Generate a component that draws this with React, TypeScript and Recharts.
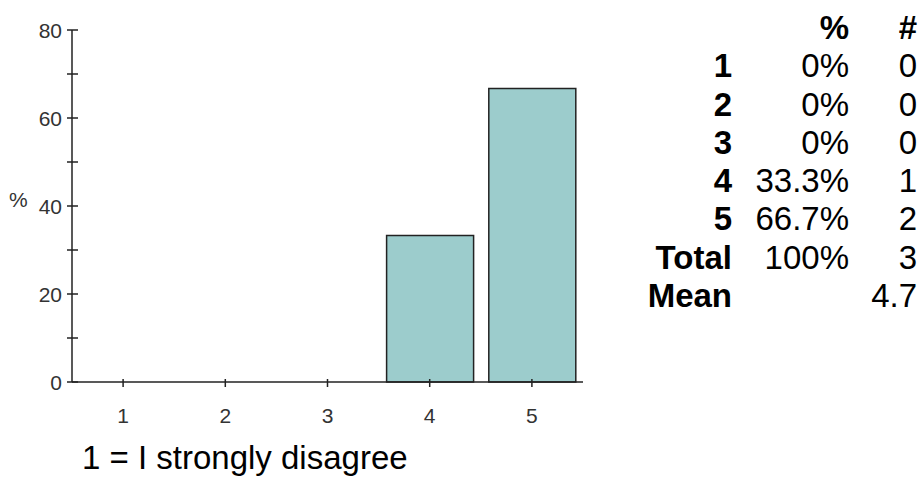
import { BarChart, Bar, XAxis, YAxis } from 'recharts';

const categories = ['1', '2', '3', '4', '5'];
const percents = [0, 0, 0, 33.3, 66.7];
const counts = [0, 0, 0, 1, 2];
const yTicks = [0, 10, 20, 30, 40, 50, 60, 70, 80];
const totalPercent = '100%';
const totalCount = 3;
const meanValue = 4.7;
const caption = '1 = I strongly disagree';

const data = categories.map((c, i) => ({ name: c, pct: percents[i], n: counts[i] }));

const AXIS = '#222';
const tickFont = '"Liberation Sans", Arial, sans-serif';

function YTick(props: any) {
  const { x, y, payload } = props;
  const ax = x + 10; // tickSize + tickMargin
  const labeled = payload.value % 20 === 0;
  return (
    <g>
      <line x1={ax - 5} x2={ax + 6} y1={y} y2={y} stroke={AXIS} strokeWidth={1.5} />
      {labeled && (
        <text x={x} y={y} dy="0.36em" textAnchor="end" fontSize={21} fill="#333" fontFamily={tickFont}>
          {payload.value}
        </text>
      )}
    </g>
  );
}

function XTick(props: any) {
  const { x, y, payload } = props;
  const ay = y - 13; // tickSize + tickMargin
  return (
    <g>
      <line x1={x} x2={x} y1={ay - 3} y2={ay + 5} stroke={AXIS} strokeWidth={1.5} />
      <text x={x} y={ay + 33} dy="0.36em" textAnchor="middle" fontSize={21} fill="#333" fontFamily={tickFont}>
        {payload.value}
      </text>
    </g>
  );
}

const tableFont: React.CSSProperties = {
  fontFamily: '"Liberation Sans", Arial, Helvetica, sans-serif',
  fontSize: 33,
  lineHeight: '38.3px',
  color: '#000',
};

export default function App() {
  return (
    <div style={{ position: 'absolute', left: 0, top: 0, width: 921, height: 479, background: '#fff' }}>
      <BarChart
        width={921}
        height={479}
        data={data}
        margin={{ top: 30, right: 338, bottom: 67, left: 6 }}
        barSize={87}
      >
        <XAxis
          dataKey="name"
          tick={<XTick />}
          tickSize={5}
          tickMargin={8}
          tickLine={false}
          axisLine={{ stroke: AXIS, strokeWidth: 1.5 }}
          height={30}
          interval={0}
        />
        <YAxis
          type="number"
          domain={[0, 80]}
          ticks={yTicks}
          tick={<YTick />}
          tickSize={5}
          tickMargin={5}
          tickLine={false}
          axisLine={{ stroke: AXIS, strokeWidth: 1.5 }}
          width={66}
          interval={0}
          label={{
            value: '%',
            position: 'insideLeft',
            offset: 3,
            dy: -6,
            fontSize: 21,
            fill: '#333',
            fontFamily: tickFont,
          }}
        />
        <Bar dataKey="pct" fill="#9ccccc" stroke="#222" strokeWidth={1.5} isAnimationActive={false} />
      </BarChart>

      <table
        style={{ ...tableFont, position: 'absolute', left: 630, top: 9, borderCollapse: 'collapse' }}
        cellPadding={0}
      >
        <tbody>
          <tr>
            <td style={{ width: 102 }} />
            <td style={{ width: 117, textAlign: 'right', fontWeight: 'bold' }}>%</td>
            <td style={{ width: 68, textAlign: 'right', fontWeight: 'bold' }}>#</td>
          </tr>
          {data.map(d => (
            <tr key={d.name}>
              <td style={{ textAlign: 'right', fontWeight: 'bold' }}>{d.name}</td>
              <td style={{ textAlign: 'right' }}>{`${d.pct}%`}</td>
              <td style={{ textAlign: 'right' }}>{d.n}</td>
            </tr>
          ))}
          <tr>
            <td style={{ textAlign: 'right', fontWeight: 'bold' }}>Total</td>
            <td style={{ textAlign: 'right' }}>{totalPercent}</td>
            <td style={{ textAlign: 'right' }}>{totalCount}</td>
          </tr>
          <tr>
            <td style={{ textAlign: 'right', fontWeight: 'bold' }}>Mean</td>
            <td />
            <td style={{ textAlign: 'right' }}>{meanValue}</td>
          </tr>
        </tbody>
      </table>

      <div style={{ ...tableFont, position: 'absolute', left: 82, top: 439, whiteSpace: 'nowrap' }}>
        {caption}
      </div>
    </div>
  );
}
